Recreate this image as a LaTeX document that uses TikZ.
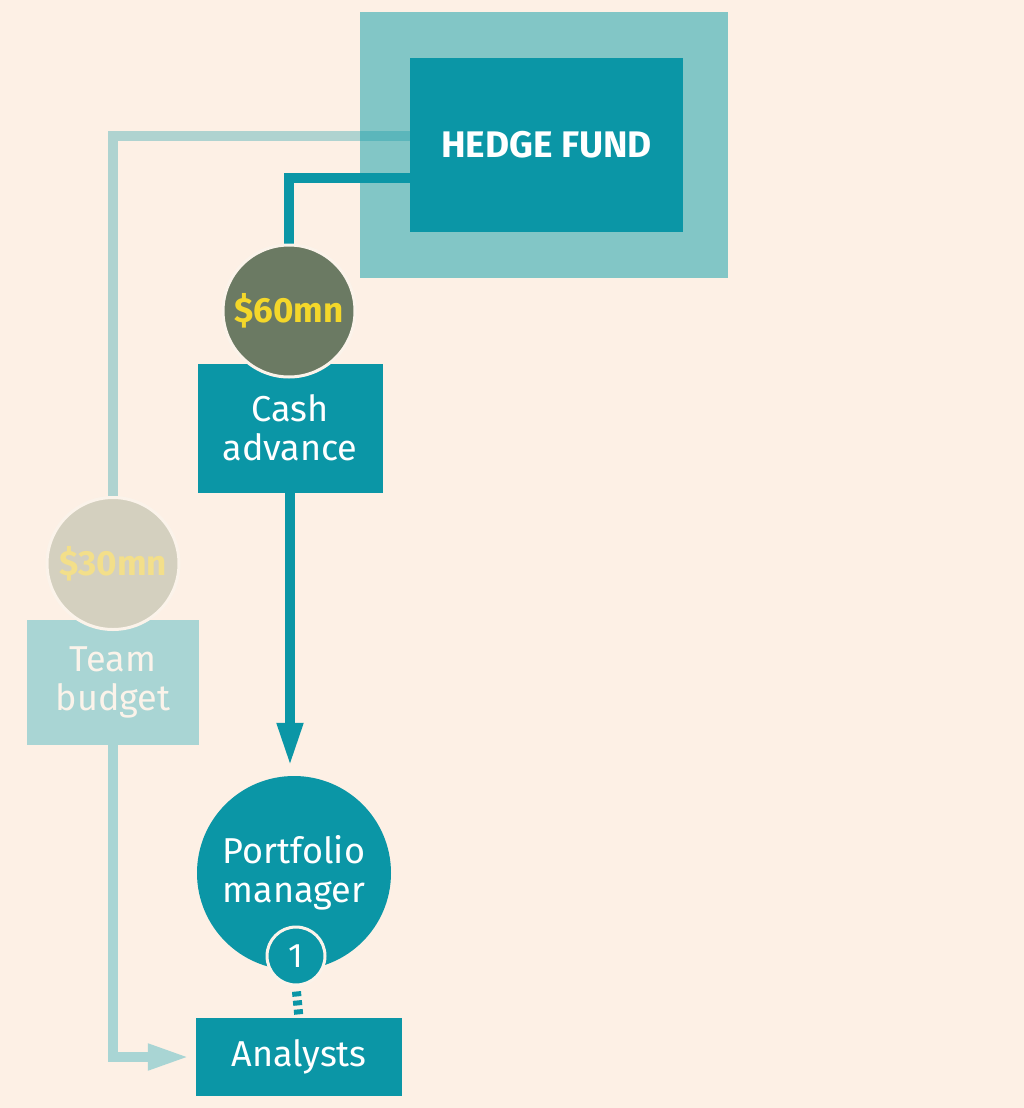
\documentclass[tikz,border=0pt]{standalone}
\usepackage{fontspec}
\setmainfont{Fira Sans}
\usetikzlibrary{calc,arrows.meta}
\definecolor{bg}{HTML}{FDF0E5}
\definecolor{teal}{HTML}{0B96A6}
\definecolor{outer}{HTML}{82C6C6}
\definecolor{lteal}{HTML}{A9D5D4}
\definecolor{circA}{HTML}{6B7A63}
\definecolor{circB}{HTML}{D4D0BF}
\definecolor{yelA}{HTML}{F4D72A}
\definecolor{yelB}{HTML}{F3DF8A}
\definecolor{cream}{HTML}{FBF3EA}
\pgfdeclarelayer{back}
\pgfdeclarelayer{lines}
\pgfsetlayers{back,lines,main}
\tikzset{
  x=1pt, y=-1pt,
  lbl/.style={font=\fontsize{36}{39}\selectfont, text=white, align=center, inner sep=0pt},
  tealbox/.style={rectangle, fill=teal, lbl},
  fadedbox/.style={rectangle, fill=lteal, lbl, text=cream},
  money/.style={circle, draw=cream, line width=3pt, inner sep=0pt, font=\bfseries\fontsize{35}{38}\selectfont},
  darkline/.style={draw=teal, line width=10pt},
  lightline/.style={draw=teal, draw opacity=0.32, line width=10pt},
}
\begin{document}
\begin{tikzpicture}
\begin{pgfonlayer}{back}
\useasboundingbox (0,0) rectangle (1024,1108);
\fill[bg] (0,0) rectangle (1024,1108);
\node[rectangle, fill=outer, minimum width=368pt, minimum height=266pt, inner sep=0pt] (hfo) at (544,145) {};
\end{pgfonlayer}

\node[tealbox, minimum width=273pt, minimum height=174pt, font=\bfseries\fontsize{37}{40}\selectfont] (hf) at (546.5,145) {HEDGE FUND};

\node[tealbox, minimum width=185pt, minimum height=129pt] (cash) at (290,428) {Cash\\advance};
\node[money, fill=circA, text=yelA, minimum size=132pt] (c60) at (289,311) {\$60mn};

\node[fadedbox, minimum width=172pt, minimum height=125pt] (tb) at (113,682.5) {Team\\budget};
\node[money, fill=circB, text=yelB, minimum size=132pt] (c30) at (113,563.5) {\$30mn};

\node[circle, fill=teal, lbl, minimum size=194pt] (pm) at (294,873) {Portfolio\\manager};
\node[circle, fill=teal, draw=cream, line width=3pt, inner sep=0pt, minimum size=58pt, text=white, font=\fontsize{34}{36}\selectfont] (one) at (296,956) {1};
\node[tealbox, minimum width=206pt, minimum height=78pt] (an) at (299,1057) {Analysts};

\begin{pgfonlayer}{lines}
\draw[lightline] ($(hf.west)+(20,-9)$) -| (c30.north);
\draw[darkline] ($(hf.west)+(20,33)$) -| (c60.north);
\draw[darkline, -{Triangle[width=24pt,length=44pt]}, shorten >=9pt] (cash.south) -- (cash.south |- pm.north);
\draw[draw=lteal, line width=10pt, -{Triangle[width=24pt,length=42pt]}, shorten >=6pt] (tb.south) |- (an.west);
\draw[draw=teal, line width=9pt, dash pattern=on 5pt off 4pt, shorten <=5pt] (one.south) -- (an.north);
\end{pgfonlayer}
\end{tikzpicture}
\end{document}
